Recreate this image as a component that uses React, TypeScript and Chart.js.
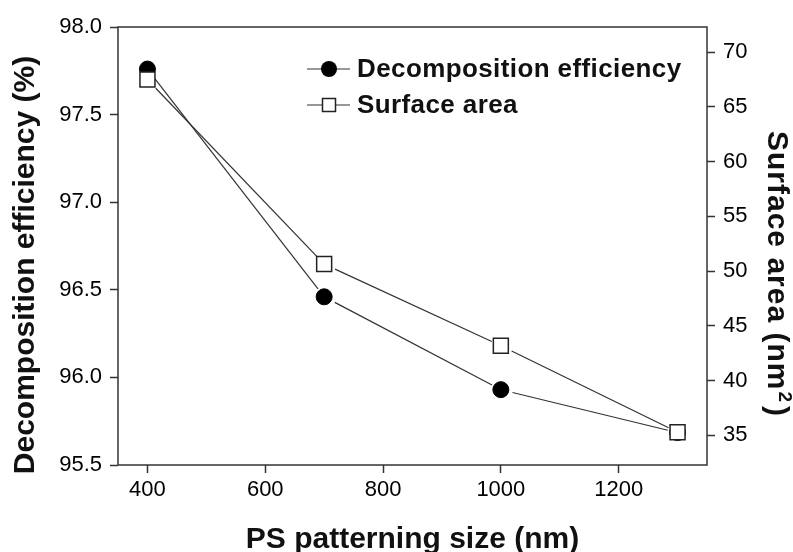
import React, { useEffect, useRef } from "react";
import { Chart, registerables } from "chart.js";

Chart.register(...registerables);

const sizes = [400, 700, 1000, 1300];
const efficiency = [97.76, 96.46, 95.93, 95.685];
const surfaceArea = [67.5, 50.65, 43.2, 35.3];
const xTicks = [400, 600, 800, 1000, 1200];
const leftTicks = [95.5, 96.0, 96.5, 97.0, 97.5, 98.0];
const rightTicks = [35, 40, 45, 50, 55, 60, 65, 70];
const xTitle = "PS patterning size (nm)";
const leftTitle = "Decomposition efficiency (%)";
const rightTitleMain = "Surface area (nm";
const rightTitleSup = "2";
const rightTitleEnd = ")";

const FONT = "Arial, 'Liberation Sans', sans-serif";

const gapLinePlugin = {
  id: "gapLines",
  beforeDatasetsDraw(chart: any) {
    const ctx = chart.ctx;
    const gap = 12;
    ctx.save();
    ctx.strokeStyle = "#333";
    ctx.lineWidth = 1.2;
    chart.data.datasets.forEach((_: any, di: number) => {
      const pts = chart.getDatasetMeta(di).data;
      for (let i = 0; i < pts.length - 1; i++) {
        const a = pts[i], b = pts[i + 1];
        const dx = b.x - a.x, dy = b.y - a.y;
        const len = Math.hypot(dx, dy);
        if (len < gap * 2) continue;
        const ux = dx / len, uy = dy / len;
        ctx.beginPath();
        ctx.moveTo(a.x + ux * gap, a.y + uy * gap);
        ctx.lineTo(b.x - ux * (gap - 2), b.y - uy * (gap - 2));
        ctx.stroke();
      }
    });
    ctx.restore();
  },
};

const framePlugin = {
  id: "frameLegend",
  afterDraw(chart: any) {
    const ctx = chart.ctx;
    const { left, right, top, bottom } = chart.chartArea;
    ctx.save();
    ctx.strokeStyle = "#333";
    ctx.lineWidth = 1.5;
    ctx.strokeRect(left, top, right - left, bottom - top);

    // legend
    const lx = left + 189;
    const rows = [top + 42, top + 78];
    chart.data.datasets.forEach((ds: any, i: number) => {
      const y = rows[i];
      ctx.strokeStyle = "#333";
      ctx.lineWidth = 1.2;
      ctx.beginPath();
      ctx.moveTo(lx, y);
      ctx.lineTo(lx + 43, y);
      ctx.stroke();
      const cx = lx + 22;
      ctx.beginPath();
      if (ds.pointStyle === "circle") {
        ctx.fillStyle = "#000";
        ctx.arc(cx, y, 8, 0, Math.PI * 2);
        ctx.fill();
      } else {
        ctx.fillStyle = "#fff";
        ctx.strokeStyle = "#222";
        ctx.lineWidth = 1.5;
        ctx.rect(cx - 6.5, y - 6.5, 13, 13);
        ctx.fill();
        ctx.stroke();
      }
      ctx.fillStyle = "#111";
      ctx.font = `bold 26px ${FONT}`;
      (ctx as any).letterSpacing = "0.4px";
      ctx.textBaseline = "middle";
      ctx.textAlign = "left";
      ctx.fillText(ds.label, lx + 50, y + 1);
      (ctx as any).letterSpacing = "0px";
    });

    // axis titles
    ctx.fillStyle = "#111";
    ctx.font = `bold 30px ${FONT}`;
    ctx.textBaseline = "alphabetic";
    // bottom
    ctx.textAlign = "center";
    ctx.fillText(xTitle, (left + right) / 2, bottom + 83);
    // left
    ctx.save();
    ctx.translate(left - 84.5, (top + bottom) / 2 + 19);
    ctx.rotate(-Math.PI / 2);
    ctx.textAlign = "center";
    ctx.fillText(leftTitle, 0, 0);
    ctx.restore();
    // right
    ctx.save();
    (ctx as any).letterSpacing = "1px";
    ctx.font = `bold 30px ${FONT}`;
    const w1 = ctx.measureText(rightTitleMain).width;
    ctx.font = `bold 19px ${FONT}`;
    const w2 = ctx.measureText(rightTitleSup).width;
    ctx.font = `bold 30px ${FONT}`;
    const w3 = ctx.measureText(rightTitleEnd).width;
    const total = w1 + w2 + 4 + w3;
    ctx.translate(right + 61, (top + bottom) / 2 + 28);
    ctx.rotate(Math.PI / 2);
    ctx.textAlign = "left";
    let x0 = -total / 2;
    ctx.fillText(rightTitleMain, x0, 0);
    x0 += w1 + 1;
    ctx.font = `bold 19px ${FONT}`;
    ctx.fillText(rightTitleSup, x0, -11);
    x0 += w2 + 3;
    ctx.font = `bold 30px ${FONT}`;
    ctx.fillText(rightTitleEnd, x0, 0);
    (ctx as any).letterSpacing = "0px";
    ctx.restore();

    ctx.restore();
  },
};

export default function App() {
  const ref = useRef<HTMLCanvasElement>(null);
  useEffect(() => {
    document.body.style.margin = "0";
    const chart = new Chart(ref.current!, {
      type: "scatter",
      data: {
        datasets: [
          {
            label: "Decomposition efficiency",
            data: sizes.map((x, i) => ({ x, y: efficiency[i] })),
            yAxisID: "y",
            order: 1,
            showLine: false,
            pointStyle: "circle",
            pointRadius: 8,
            pointBackgroundColor: "#000",
            pointBorderColor: "#000",
            pointBorderWidth: 1,
          },
          {
            label: "Surface area",
            data: sizes.map((x, i) => ({ x, y: surfaceArea[i] })),
            yAxisID: "y1",
            order: 0,
            showLine: false,
            pointStyle: "rect",
            pointRadius: 10.6,
            pointBackgroundColor: "#fff",
            pointBorderColor: "#222",
            pointBorderWidth: 1.5,
          },
        ],
      },
      options: {
        responsive: false,
        animation: false,
        layout: { padding: { top: 27, left: 0, right: 0, bottom: 0 } },
        plugins: { legend: { display: false }, tooltip: { enabled: false } },
        scales: {
          x: {
            type: "linear",
            position: "bottom",
            min: 350,
            max: 1350,
            afterBuildTicks: (s: any) => {
              s.ticks = xTicks.map((v) => ({ value: v }));
            },
            afterFit: (s: any) => {
              s.height = 87;
            },
            border: { display: false },
            grid: { drawOnChartArea: false, drawTicks: true, tickLength: 8, tickColor: "#333", tickWidth: 1.5 },
            ticks: {
              color: "#000",
              font: { family: FONT, size: 22 },
              padding: 4,
              maxRotation: 0,
              callback: (v: any) => String(v),
            },
          },
          y: {
            type: "linear",
            position: "left",
            min: 95.5,
            max: 98.0,
            afterBuildTicks: (s: any) => {
              s.ticks = leftTicks.map((v) => ({ value: v }));
            },
            afterFit: (s: any) => {
              s.width = 118;
            },
            border: { display: false },
            grid: { drawOnChartArea: false, drawTicks: true, tickLength: 8, tickColor: "#333", tickWidth: 1.5 },
            ticks: {
              color: "#000",
              font: { family: FONT, size: 22 },
              padding: 8,
              callback: (v: any) => Number(v).toFixed(1),
            },
          },
          y1: {
            type: "linear",
            position: "right",
            min: 32.3,
            max: 72.3,
            afterBuildTicks: (s: any) => {
              s.ticks = rightTicks.map((v) => ({ value: v }));
            },
            afterFit: (s: any) => {
              s.width = 86;
            },
            border: { display: false },
            grid: { drawOnChartArea: false, drawTicks: true, tickLength: 8, tickColor: "#333", tickWidth: 1.5 },
            ticks: {
              color: "#000",
              font: { family: FONT, size: 22 },
              padding: 8,
              callback: (v: any) => String(v),
            },
          },
        },
      },
      plugins: [gapLinePlugin, framePlugin],
    });
    return () => chart.destroy();
  }, []);
  return (
    <div style={{ width: 793, height: 552 }}>
      <canvas ref={ref} width={793} height={552} />
    </div>
  );
}
